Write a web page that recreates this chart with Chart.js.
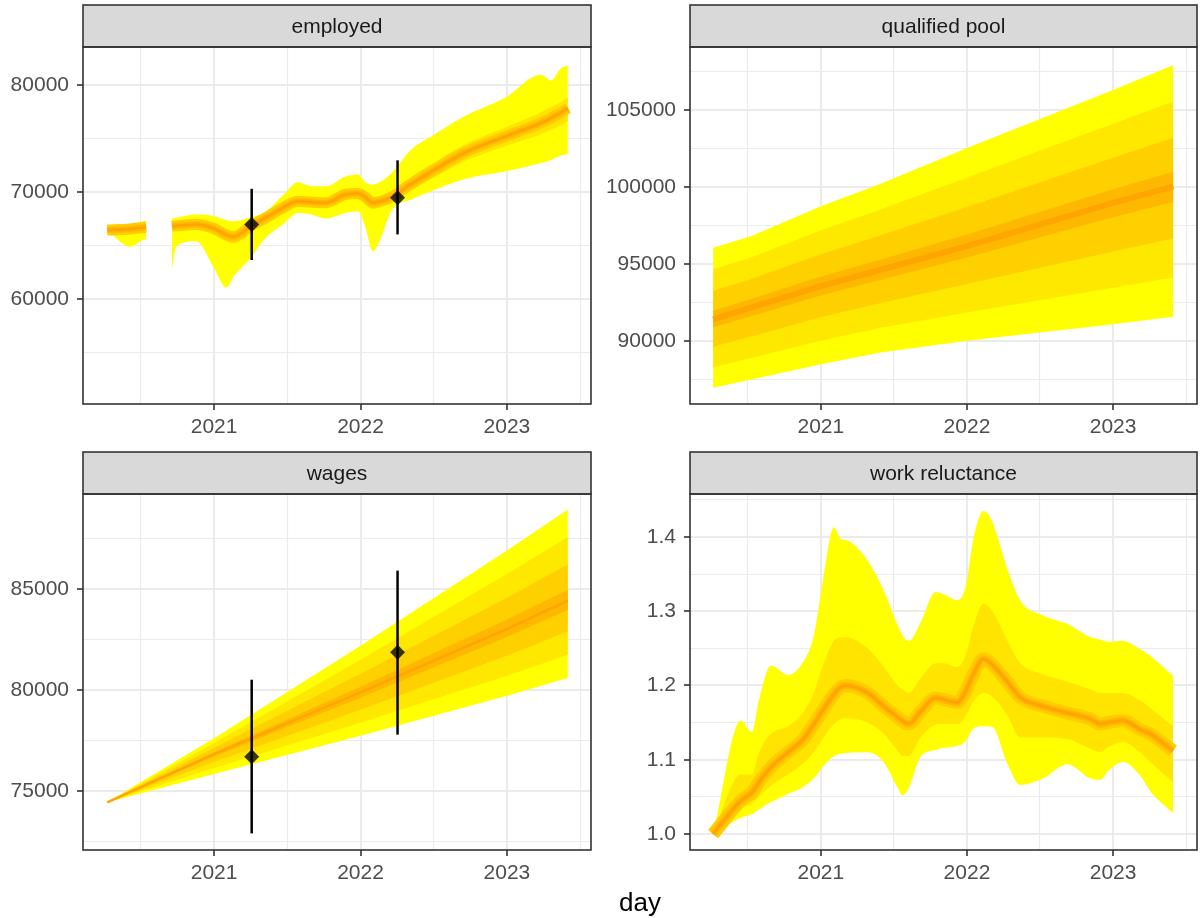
<!DOCTYPE html>
<html>
<head>
<meta charset="utf-8">
<script src="https://cdn.jsdelivr.net/npm/chart.js@4.4.1/dist/chart.umd.min.js"></script>
<style>
  body { margin: 0; background: #fff; width: 1200px; height: 918px; position: relative; overflow: hidden; }
  canvas { position: absolute; }
  #xtitle { position: absolute; left: 540px; width: 200px; top: 889px; text-align: center;
            font: 26px/26px "Liberation Sans", Arial, sans-serif; color: #000; }
</style>
</head>
<body>
<canvas id="employed" width="600" height="445" style="left:0;top:0"></canvas>
<canvas id="pool" width="600" height="445" style="left:600px;top:0"></canvas>
<canvas id="wages" width="600" height="450" style="left:0;top:450px"></canvas>
<canvas id="reluct" width="600" height="450" style="left:600px;top:450px"></canvas>
<div id="xtitle">day</div>
<script>
// x axis (decimal years)
const xTicks = [2020.5, 2021, 2021.5, 2022, 2022.5, 2023, 2023.5];

// employed
const empYear = [2020.270, 2020.427, 2020.522, 2020.536, 2020.625, 2020.713, 2020.741, 2020.877, 2021.000, 2021.082,
  2021.137, 2021.253, 2021.341, 2021.478, 2021.573, 2021.662, 2021.765, 2021.901, 2021.983, 2022.031,
  2022.085, 2022.140, 2022.208, 2022.345, 2022.502, 2022.706, 2022.993, 2023.232, 2023.300, 2023.369, 2023.416];
const empHi = [66450, 66900, 67280, 67300, null, 67540, 67600, 67900, 67750, 67400,
  67280, 67650, 68060, 69800, 70910, 70550, 70540, 71470, 71630, 70910,
  70700, 71000, 71700, 73950, 75350, 77050, 78850, 80930, 80400, 81550, 81770];
const empQ75 = [66450, 66700, 66850, 66870, null, 67100, 67150, 67250, 66950, 66500,
  66350, 67200, 67800, 69100, 69600, 69450, 69400, 70200, 70250, 69950,
  69450, 69650, 70050, 71400, 72750, 74400, 76050, 77450, 77900, 78400, 78850];
const empMid = [66450, 66550, 66700, 66720, null, 66800, 66850, 66980, 66600, 66000,
  65850, 66850, 67500, 68600, 69150, 69060, 69000, 69800, 69860, 69550,
  69000, 69150, 69500, 70750, 72050, 73640, 75200, 76440, 76900, 77400, 77830];
const empQ25 = [66450, 66300, 66450, 66470, null, 66300, 66450, 66650, 66100, 65400,
  65200, 66300, 67100, 68100, 68700, 68650, 68550, 69350, 69400, 69050,
  68400, 68600, 69000, 70150, 71350, 72850, 74300, 75400, 75800, 76250, 76600];
const empLo = [66450, 64900, 65580, 65600, null, 62800, 64900, 65420, 62900, 61100,
  62200, 63900, 65580, 67070, 68060, 67900, 67540, 68060, 68210, 66820,
  64490, 65740, 68200, 69300, 70200, 71200, 71930, 72700, 73000, 73400, 73580];
const empObsYear = [2021.257, 2022.253];
const empObs = [66980, 69460];
const empObsLo = [63660, 66050];
const empObsHi = [70300, 72960];
const empMajor = [60000, 70000, 80000];
const empMinor = [55000, 65000, 75000];

// qualified pool
const poolYear = [2020.263, 2020.522, 2021.000, 2021.410, 2022.000, 2023.000, 2023.412];
const poolHi = [96055, 96810, 98750, 100210, 102520, 106290, 107910];
const poolQ90 = [94665, 95420, 97200, 98540, 100610, 104090, 105550];
const poolQ75 = [93270, 94030, 95640, 96860, 98700, 101900, 103190];
const poolQ60 = [91980, 92730, 94190, 95300, 96920, 99850, 100980];
const poolMid = [91420, 92175, 93570, 94630, 96160, 98970, 100040];
const poolQ40 = [90890, 91620, 92960, 93990, 95420, 98030, 99030];
const poolQ25 = [89640, 90310, 91550, 92480, 93700, 95820, 96660];
const poolQ10 = [88310, 88910, 90030, 90870, 91860, 93460, 94125];
const poolLo = [86975, 87510, 88510, 89260, 90020, 91100, 91590];
const poolMajor = [90000, 95000, 100000, 105000];
const poolMinor = [87500, 92500, 97500, 102500, 107500];

// wages
const wageYear = [2020.270, 2021.000, 2022.000, 2023.000, 2023.416];
const wageHi = [74440, 77610, 82190, 86900, 88930];
const wageQ90 = [74440, 77380, 81500, 85740, 87580];
const wageQ75 = [74440, 77140, 80800, 84570, 86220];
const wageQ60 = [74440, 76920, 80160, 83490, 84960];
const wageMid = [74440, 76830, 79880, 83020, 84420];
const wageQ40 = [74440, 76710, 79620, 82620, 83960];
const wageQ25 = [74440, 76430, 79020, 81700, 82890];
const wageQ10 = [74440, 76140, 78380, 80710, 81750];
const wageLo = [74440, 75840, 77740, 79720, 80600];
const wageObsYear = [2021.257, 2022.253];
const wageObs = [76700, 81870];
const wageObsLo = [72900, 77790];
const wageObsHi = [80510, 85910];
const wageMajor = [75000, 80000, 85000];
const wageMinor = [72500, 77500, 82500, 87500];

// work reluctance
const relYear = [2020.263, 2020.454, 2020.529, 2020.577, 2020.659, 2020.775, 2020.877, 2020.952, 2021.020, 2021.089,
  2021.137, 2021.171, 2021.321, 2021.430, 2021.526, 2021.560, 2021.601, 2021.683, 2021.785, 2021.840,
  2021.935, 2021.990, 2022.044, 2022.113, 2022.174, 2022.276, 2022.365, 2022.522, 2022.686, 2022.843,
  2022.911, 2022.966, 2023.068, 2023.184, 2023.253, 2023.410];
const relHi = [1.000, 1.153, 1.137, 1.181, 1.227, 1.214, 1.231, 1.267, 1.348, 1.413,
  1.397, 1.396, 1.368, 1.328, 1.281, 1.267, 1.260, 1.285, 1.326, 1.323,
  1.315, 1.332, 1.397, 1.435, 1.420, 1.357, 1.314, 1.294, 1.283, 1.265,
  1.262, 1.259, 1.260, 1.249, 1.240, 1.213];
const relQ75 = [1.000, 1.080, 1.080, 1.110, 1.135, 1.145, 1.163, 1.190, 1.230, 1.260,
  1.265, 1.265, 1.250, 1.225, 1.200, 1.195, 1.190, 1.210, 1.230, 1.230,
  1.225, 1.240, 1.280, 1.310, 1.300, 1.260, 1.230, 1.215, 1.205, 1.195,
  1.190, 1.190, 1.190, 1.180, 1.170, 1.145];
const relMid = [1.000, 1.045, 1.056, 1.070, 1.090, 1.110, 1.127, 1.148, 1.168, 1.188,
  1.198, 1.200, 1.190, 1.172, 1.157, 1.152, 1.148, 1.165, 1.183, 1.181,
  1.177, 1.192, 1.215, 1.236, 1.228, 1.205, 1.184, 1.172, 1.163, 1.155,
  1.148, 1.150, 1.153, 1.141, 1.135, 1.112];
const relQ25 = [1.000, 1.035, 1.041, 1.050, 1.065, 1.080, 1.095, 1.110, 1.130, 1.148,
  1.155, 1.156, 1.150, 1.135, 1.112, 1.105, 1.105, 1.130, 1.147, 1.148,
  1.148, 1.158, 1.178, 1.190, 1.185, 1.160, 1.130, 1.130, 1.128, 1.115,
  1.110, 1.117, 1.124, 1.110, 1.097, 1.070];
const relLo = [1.000, 1.022, 1.027, 1.033, 1.043, 1.054, 1.063, 1.075, 1.092, 1.105,
  1.108, 1.109, 1.110, 1.097, 1.062, 1.052, 1.062, 1.104, 1.113, 1.116,
  1.119, 1.125, 1.142, 1.145, 1.144, 1.095, 1.066, 1.075, 1.094, 1.075,
  1.073, 1.085, 1.097, 1.079, 1.058, 1.028];
const relMajor = [1.0, 1.1, 1.2, 1.3, 1.4];
const relMinor = [1.05, 1.15, 1.25, 1.35, 1.45];

const FONT = '"Liberation Sans", Arial, sans-serif';
const YELLOW = '#FFFF00';

function series(xs, ys) {
  return xs.map((x, i) => ({ x: x, y: ys[i] }));
}

// a ribbon between two quantile lines: lower pushed first, upper fills down to it
function band(xs, lo, hi, color, order, smooth) {
  const base = {
    pointRadius: 0, borderWidth: 0, borderColor: 'transparent', order: order,
    cubicInterpolationMode: smooth ? 'monotone' : 'default', spanGaps: false
  };
  return [
    Object.assign({}, base, { data: series(xs, lo), fill: false }),
    Object.assign({}, base, { data: series(xs, hi), fill: '-1', backgroundColor: color })
  ];
}

function medianLine(xs, ys, color, width, order, smooth) {
  return {
    data: series(xs, ys), borderColor: color, borderWidth: width, pointRadius: 0, fill: false,
    order: order, cubicInterpolationMode: smooth ? 'monotone' : 'default', spanGaps: false,
    borderCapStyle: 'butt'
  };
}

function obsPoints(xs, ys, lo, hi) {
  return {
    data: series(xs, ys), showLine: false, pointStyle: 'rectRot', pointRadius: 7.5,
    pointBackgroundColor: 'rgba(0,0,0,0.78)', pointBorderWidth: 0, order: -1,
    errLo: lo, errHi: hi
  };
}

// strip header + panel frame
const framePlugin = {
  id: 'frame',
  afterDraw(chart, args, opts) {
    const { ctx, chartArea: a } = chart;
    ctx.save();
    ctx.fillStyle = '#D9D9D9';
    ctx.fillRect(a.left, a.top - 42, a.right - a.left, 42);
    ctx.strokeStyle = '#333333';
    ctx.lineWidth = 1.6;
    ctx.strokeRect(a.left, a.top - 42, a.right - a.left, 42);
    ctx.strokeRect(a.left, a.top, a.right - a.left, a.bottom - a.top);
    ctx.fillStyle = '#1A1A1A';
    ctx.font = '21px ' + FONT;
    ctx.textAlign = 'center';
    ctx.textBaseline = 'middle';
    ctx.fillText(opts.title, (a.left + a.right) / 2, a.top - 20);
    ctx.restore();
  }
};

// error bars drawn just under the observation points
const errPlugin = {
  id: 'errbars',
  beforeDatasetDraw(chart, args) {
    const ds = chart.data.datasets[args.index];
    if (!ds.errLo) return;
    const { ctx, scales: { x, y } } = chart;
    ctx.save();
    ctx.strokeStyle = '#000';
    ctx.lineWidth = 2.5;
    ds.data.forEach((p, i) => {
      const px = x.getPixelForValue(p.x);
      ctx.beginPath();
      ctx.moveTo(px, y.getPixelForValue(ds.errLo[i]));
      ctx.lineTo(px, y.getPixelForValue(ds.errHi[i]));
      ctx.stroke();
    });
    ctx.restore();
  }
};

function makePanel(id, title, datasets, y, layout) {
  const all = y.major.concat(y.minor).sort((a, b) => a - b);
  const isMajorY = v => y.major.indexOf(v) >= 0;
  return new Chart(document.getElementById(id), {
    type: 'line',
    data: { datasets: datasets },
    options: {
      animation: false,
      responsive: false,
      layout: { padding: layout.padding },
      plugins: { legend: { display: false }, tooltip: { enabled: false }, frame: { title: title } },
      scales: {
        x: {
          type: 'linear', min: 2020.105, max: 2023.574,
          afterBuildTicks: s => { s.ticks = xTicks.map(v => ({ value: v })); },
          afterFit: s => { s.height = 40; },
          border: { display: false },
          grid: {
            color: '#EBEBEB',
            lineWidth: c => Number.isInteger(c.tick.value) ? 2 : 1.1,
            tickLength: 6,
            tickColor: c => Number.isInteger(c.tick.value) ? '#333333' : 'rgba(0,0,0,0)',
            tickWidth: 1.6
          },
          ticks: {
            autoSkip: false, maxRotation: 0, padding: 5, color: '#4D4D4D',
            font: { family: FONT, size: 21 },
            callback: v => Number.isInteger(v) ? String(v) : ''
          }
        },
        y: {
          type: 'linear', min: y.min, max: y.max,
          afterBuildTicks: s => { s.ticks = all.map(v => ({ value: v })); },
          afterFit: s => { s.width = layout.yWidth; },
          border: { display: false },
          grid: {
            color: '#EBEBEB',
            lineWidth: c => isMajorY(c.tick.value) ? 2 : 1.1,
            tickLength: 6,
            tickColor: c => isMajorY(c.tick.value) ? '#333333' : 'rgba(0,0,0,0)',
            tickWidth: 1.6
          },
          ticks: {
            autoSkip: false, padding: 8, color: '#4D4D4D',
            font: { family: FONT, size: 21 },
            callback: v => isMajorY(v) ? y.fmt(v) : ''
          }
        }
      }
    },
    plugins: [framePlugin, errPlugin]
  });
}

const intFmt = v => String(v);

// employed
makePanel('employed', 'employed', [
  obsPoints(empObsYear, empObs, empObsLo, empObsHi),
  medianLine(empYear, empMid, '#FFA300', 2.5, 0, true),
  medianLine(empYear, empMid, '#FFB800', 6, 1, true),
  medianLine(empYear, empMid, '#FFCC00', 11, 2, true),
  ...band(empYear, empQ25, empQ75, '#FFE400', 3, true),
  ...band(empYear, empLo, empHi, YELLOW, 4, true)
], { min: 50230, max: 83530, major: empMajor, minor: empMinor, fmt: intFmt },
  { padding: { top: 47, right: 9, bottom: 1, left: 0 }, yWidth: 83 });

// qualified pool
makePanel('pool', 'qualified pool', [
  medianLine(poolYear, poolMid, '#FFA500', 6, 0, false),
  ...band(poolYear, poolQ40, poolQ60, '#FFB800', 1, false),
  ...band(poolYear, poolQ25, poolQ75, '#FFD000', 2, false),
  ...band(poolYear, poolQ10, poolQ90, '#FFE800', 3, false),
  ...band(poolYear, poolLo, poolHi, YELLOW, 4, false)
], { min: 85926, max: 109074, major: poolMajor, minor: poolMinor, fmt: intFmt },
  { padding: { top: 47, right: 3, bottom: 1, left: 0 }, yWidth: 90 });

// wages
makePanel('wages', 'wages', [
  obsPoints(wageObsYear, wageObs, wageObsLo, wageObsHi),
  medianLine(wageYear, wageMid, '#FFA500', 2.5, 0, false),
  ...band(wageYear, wageQ40, wageQ60, '#FFB800', 1, false),
  ...band(wageYear, wageQ25, wageQ75, '#FFD000', 2, false),
  ...band(wageYear, wageQ10, wageQ90, '#FFE800', 3, false),
  ...band(wageYear, wageLo, wageHi, YELLOW, 4, false)
], { min: 72079, max: 89703, major: wageMajor, minor: wageMinor, fmt: intFmt },
  { padding: { top: 44, right: 9, bottom: 10, left: 0 }, yWidth: 83 });

// work reluctance
makePanel('reluct', 'work reluctance', [
  medianLine(relYear, relMid, '#FFA300', 3, 0, true),
  medianLine(relYear, relMid, '#FFB800', 7, 1, true),
  medianLine(relYear, relMid, '#FFCC00', 13, 2, true),
  ...band(relYear, relQ25, relQ75, '#FFE400', 3, true),
  ...band(relYear, relLo, relHi, YELLOW, 4, true)
], { min: 0.97845, max: 1.4579, major: relMajor, minor: relMinor, fmt: v => v.toFixed(1) },
  { padding: { top: 44, right: 3, bottom: 10, left: 0 }, yWidth: 90 });
</script>
</body>
</html>
